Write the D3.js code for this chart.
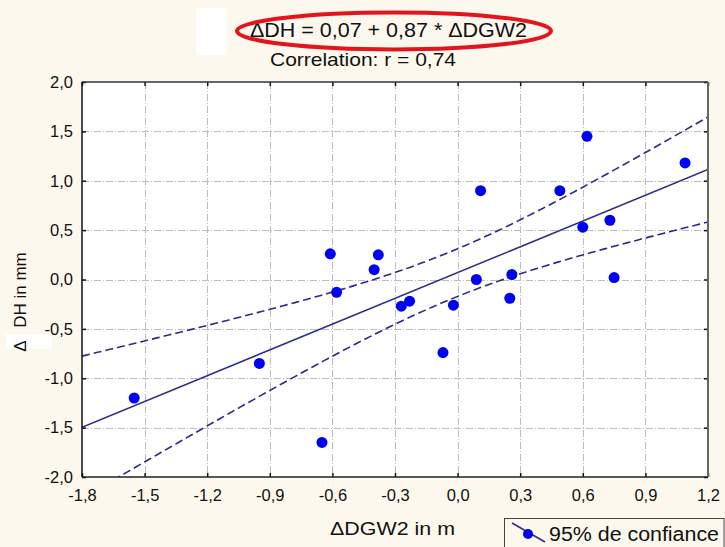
<!DOCTYPE html>
<html>
<head>
<meta charset="utf-8">
<script src="https://cdn.jsdelivr.net/npm/d3@7"></script>
<style>
  html, body { margin: 0; padding: 0; background: #fdf8ee; }
  svg { display: block; font-family: "Liberation Sans", Arial, sans-serif; }
</style>
</head>
<body>
<svg id="chart" width="725" height="547"></svg>
<script>
// Measured pairs: change in groundwater level (m) vs. change in DH (mm)
const dgw2 = [-1.55, -0.95, -0.65, -0.61, -0.58, -0.38, -0.40, -0.27, -0.23, -0.07, -0.02,
              0.09, 0.11, 0.26, 0.25, 0.49, 0.62, 0.60, 0.73, 0.75, 1.09];
const dh   = [-1.20, -0.85, -1.65, 0.26, -0.13, 0.25, 0.10, -0.27, -0.22, -0.74, -0.26,
              0.00, 0.90, 0.05, -0.19, 0.90, 1.45, 0.53, 0.60, 0.02, 1.18];

// Fitted line as reported: ΔDH = 0,07 + 0,87 * ΔDGW2
const intercept = 0.07;
const slope = 0.87;
const tCrit = 2.093; // Student t, 95 %, n - 2 = 19 degrees of freedom

const xTicks = [-1.8, -1.5, -1.2, -0.9, -0.6, -0.3, 0.0, 0.3, 0.6, 0.9, 1.2];
const yTicks = [-2.0, -1.5, -1.0, -0.5, 0.0, 0.5, 1.0, 1.5, 2.0];

const titleText = "ΔDH = 0,07 + 0,87 * ΔDGW2";
const corrText = "Correlation: r = 0,74";
const xTitle = "ΔDGW2 in m";
const yTitle = "DH in mm";
const legendText = "95% de confiance";

const svg = d3.select("#chart");
const pL = 82, pR = 708, pT = 82, pB = 477;

const x = d3.scaleLinear().domain([-1.8, 1.2]).range([pL, pR]);
const y = d3.scaleLinear().domain([-2, 2]).range([pB, pT]);
const fmt = d => d.toFixed(1).replace(".", ",");

const navy = "#2b2b8f";

// Plot area
svg.append("rect").attr("x", pL).attr("y", pT)
  .attr("width", pR - pL).attr("height", pB - pT).attr("fill", "#fff");

// Dash-dot grid
const grid = svg.append("g").attr("stroke", "#bdbdbd").attr("stroke-width", 1)
  .attr("stroke-dasharray", "7,2,1,2");
grid.selectAll(".gx").data(xTicks.slice(1, -1)).join("line")
  .attr("x1", d => Math.round(x(d)) + 0.5).attr("x2", d => Math.round(x(d)) + 0.5)
  .attr("y1", pT).attr("y2", pB);
grid.selectAll(".gy").data(yTicks.slice(1, -1)).join("line")
  .attr("y1", d => Math.round(y(d)) + 0.5).attr("y2", d => Math.round(y(d)) + 0.5)
  .attr("x1", pL).attr("x2", pR);

// Confidence band of the mean response, from the residuals about the line
const n = dgw2.length;
const meanX = d3.mean(dgw2);
const sxx = d3.sum(dgw2, v => (v - meanX) ** 2);
const sse = d3.sum(dgw2, (v, i) => (dh[i] - (intercept + slope * v)) ** 2);
const s = Math.sqrt(sse / (n - 2));
const fit = v => intercept + slope * v;
const half = v => tCrit * s * Math.sqrt(1 / n + (v - meanX) ** 2 / sxx);
const xs = d3.range(-1.8, 1.2001, 0.02);

svg.append("clipPath").attr("id", "plotClip")
  .append("rect").attr("x", pL).attr("y", pT)
  .attr("width", pR - pL).attr("height", pB - pT);

const curves = svg.append("g").attr("clip-path", "url(#plotClip)")
  .attr("fill", "none").attr("stroke", navy);

const line = d3.line().x(d => x(d[0])).y(d => y(d[1]));
const xEnds = x.domain();
curves.append("path").attr("stroke-width", 1.5)
  .attr("d", line(xEnds.map(v => [v, fit(v)])));
curves.append("path").attr("stroke-width", 1.6).attr("stroke-dasharray", "8,4")
  .attr("d", line(xs.map(v => [v, fit(v) + half(v)])));
curves.append("path").attr("stroke-width", 1.6).attr("stroke-dasharray", "8,4")
  .attr("d", line(xs.map(v => [v, fit(v) - half(v)])));

// Points
svg.append("g").selectAll("circle").data(dgw2).join("circle")
  .attr("cx", d => x(d)).attr("cy", (d, i) => y(dh[i]))
  .attr("r", 5.5).attr("fill", "#0000f5");

// Axes with inward ticks
const xAxis = svg.append("g").attr("transform", `translate(0,${pB})`)
  .call(d3.axisBottom(x).tickValues(xTicks).tickFormat(fmt).tickSize(-4).tickPadding(12));
const yAxis = svg.append("g").attr("transform", `translate(${pL},0)`)
  .call(d3.axisLeft(y).tickValues(yTicks).tickFormat(fmt).tickSize(-4).tickPadding(9));
svg.append("g").attr("transform", `translate(0,${pT})`)
  .call(d3.axisTop(x).tickValues(xTicks).tickFormat("").tickSize(-4));
svg.append("g").attr("transform", `translate(${pR},0)`)
  .call(d3.axisRight(y).tickValues(yTicks).tickFormat("").tickSize(-4));

svg.selectAll(".domain").remove();
svg.selectAll(".tick line").attr("stroke", "#111").attr("stroke-width", 1.5);
[xAxis, yAxis].forEach(a => a.selectAll("text")
  .attr("font-size", 16.5).attr("fill", "#111")
  .attr("font-family", "'Liberation Sans', Arial, sans-serif"));

// Frame
svg.append("line").attr("x1", pL).attr("x2", pR).attr("y1", pT).attr("y2", pT)
  .attr("stroke", "#333").attr("stroke-width", 1.5);
svg.append("line").attr("x1", pR).attr("x2", pR).attr("y1", pT).attr("y2", pB)
  .attr("stroke", "#666").attr("stroke-width", 2);
svg.append("line").attr("x1", pL).attr("x2", pR).attr("y1", pB).attr("y2", pB)
  .attr("stroke", "#222").attr("stroke-width", 1.5);
svg.append("line").attr("x1", pL).attr("x2", pL).attr("y1", pT).attr("y2", pB)
  .attr("stroke", "#111").attr("stroke-width", 1.5);

// Heading
svg.append("rect").attr("x", 196).attr("y", 8).attr("width", 31).attr("height", 47).attr("fill", "#fff");
svg.append("text").attr("x", 250).attr("y", 37).attr("font-size", 20).attr("fill", "#111")
  .attr("textLength", 277).attr("lengthAdjust", "spacingAndGlyphs").text(titleText);
svg.append("text").attr("x", 270).attr("y", 66).attr("font-size", 19).attr("fill", "#111")
  .attr("textLength", 186).attr("lengthAdjust", "spacingAndGlyphs").text(corrText);
svg.append("ellipse").attr("cx", 394).attr("cy", 31).attr("rx", 157).attr("ry", 18.5)
  .attr("fill", "none").attr("stroke", "#e3141b").attr("stroke-width", 4);

// Axis titles
svg.append("text").attr("x", 330).attr("y", 535).attr("font-size", 19).attr("fill", "#111")
  .attr("textLength", 125).attr("lengthAdjust", "spacingAndGlyphs").text(xTitle);
svg.append("rect").attr("x", 6).attr("y", 334).attr("width", 46).attr("height", 15).attr("fill", "#fff");
svg.append("text").attr("transform", "translate(26,290) rotate(-90)")
  .attr("text-anchor", "middle").attr("font-size", 17).attr("fill", "#111").text(yTitle);
svg.append("text").attr("transform", "translate(26,346) rotate(-90)")
  .attr("text-anchor", "middle").attr("font-size", 17).attr("fill", "#111").text("Δ");

// Legend
const lg = svg.append("g");
lg.append("rect").attr("x", 504.5).attr("y", 518.5).attr("width", 219.5).attr("height", 40)
  .attr("fill", "#fdf8ee").attr("stroke", "#444").attr("stroke-width", 1);
lg.append("line").attr("x1", 512).attr("y1", 523).attr("x2", 545).attr("y2", 542)
  .attr("stroke", navy).attr("stroke-width", 1.5);
lg.append("circle").attr("cx", 528).attr("cy", 534).attr("r", 5).attr("fill", "#0000f5");
lg.append("text").attr("x", 549).attr("y", 541).attr("font-size", 20).attr("fill", "#111")
  .attr("textLength", 170).attr("lengthAdjust", "spacingAndGlyphs").text(legendText);
</script>
</body>
</html>
